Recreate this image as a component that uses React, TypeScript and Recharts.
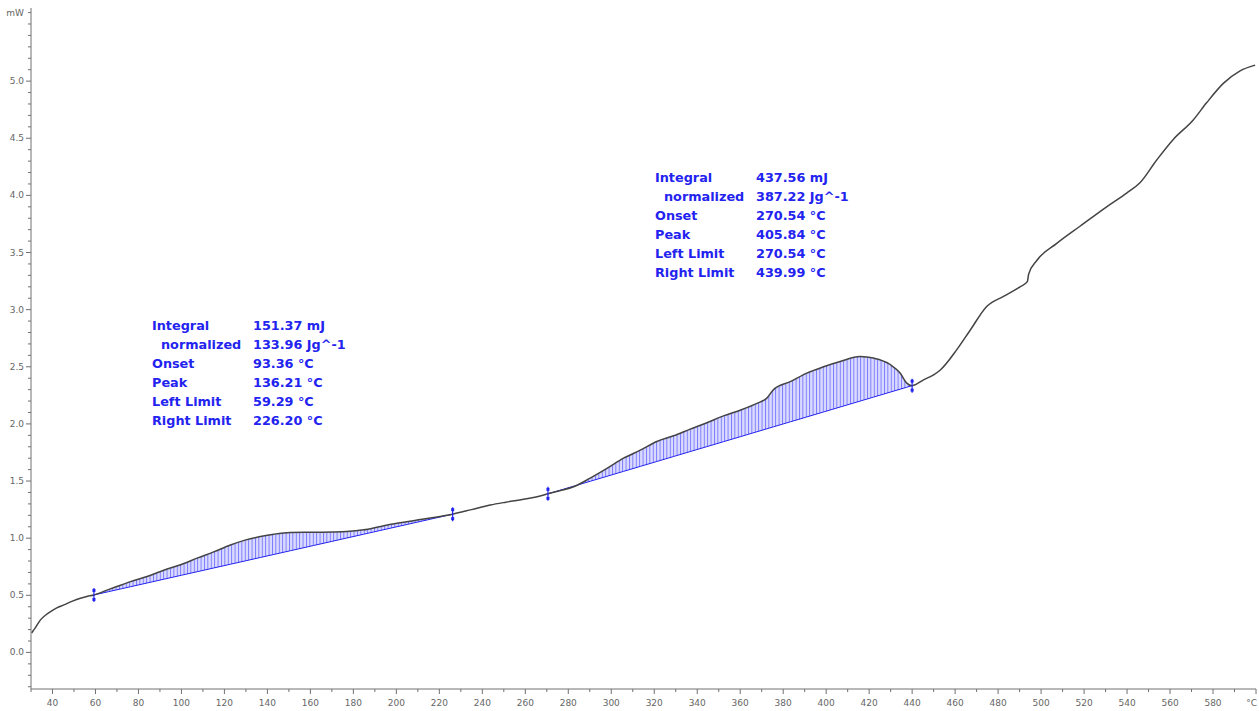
import React from 'react'
import { ComposedChart, Line, Area, XAxis, YAxis, Scatter } from 'recharts'

// DSC trace: sample temperature (°C) and heat flow (mW)
const temperature = [
  30.3, 31, 32, 34.4, 37, 39.1, 42, 45.3, 49, 53, 56, 59.29, 66, 72, 76.3, 84, 91.8, 100, 107.3, 115,
  122.8, 130, 136.7, 143, 150.7, 161.5, 170, 177, 184.8, 192, 200.3, 212, 223.6, 226.2, 235, 243.7, 251,
  259.2, 265, 270.54, 276, 282.5, 290.2, 298, 305.7, 313.5, 321.2, 329, 336.7, 344.5, 352.2, 360, 367.8,
  372.4, 375.5, 383.3, 391, 398.8, 406.5, 415.8, 422, 429.8, 434.4, 437.5, 439.99, 445.3, 450, 453, 460.8,
  467, 474.8, 482.5, 490.2, 493.6, 494.2, 498, 507.3, 518.1, 530.5, 539.8, 546, 553.8, 561.5, 570.8, 577,
  584.8, 592.6, 599.6,
]
const heatFlow = [
  0.17, 0.19, 0.215, 0.285, 0.33, 0.357, 0.39, 0.416, 0.447, 0.475, 0.49, 0.503, 0.55, 0.59, 0.62, 0.665,
  0.72, 0.77, 0.825, 0.88, 0.94, 0.985, 1.014, 1.035, 1.05, 1.052, 1.054, 1.058, 1.073, 1.1, 1.13, 1.165,
  1.2, 1.21, 1.25, 1.29, 1.315, 1.34, 1.36, 1.388, 1.415, 1.45, 1.525, 1.61, 1.7, 1.77, 1.846, 1.896, 1.954,
  2.01, 2.07, 2.12, 2.18, 2.226, 2.3, 2.37, 2.445, 2.5, 2.546, 2.59, 2.576, 2.52, 2.445, 2.357, 2.335, 2.386,
  2.43, 2.47, 2.65, 2.82, 3.03, 3.116, 3.2, 3.245, 3.31, 3.43, 3.58, 3.73, 3.9, 4.02, 4.11, 4.31, 4.49, 4.66,
  4.81, 4.98, 5.09, 5.14,
]

// integration limits (°C) for the two evaluated peaks
const peakLeft = [59.29, 270.54]
const peakRight = [226.2, 439.99]

const resultLabels = ['Integral', 'normalized', 'Onset', 'Peak', 'Left Limit', 'Right Limit']
const peak1Results = ['151.37 mJ', '133.96 Jg^-1', '93.36 °C', '136.21 °C', '59.29 °C', '226.20 °C']
const peak2Results = ['437.56 mJ', '387.22 Jg^-1', '270.54 °C', '405.84 °C', '270.54 °C', '439.99 °C']

const xMajorTicks = [40, 60, 80, 100, 120, 140, 160, 180, 200, 220, 240, 260, 280, 300, 320, 340, 360, 380, 400, 420, 440, 460, 480, 500, 520, 540, 560, 580]
const yMajorTicks = ['0.0', '0.5', '1.0', '1.5', '2.0', '2.5', '3.0', '3.5', '4.0', '4.5', '5.0']

const xTicks: number[] = []
for (let t = 30; t <= 600; t += 10) xTicks.push(t)
const yTicks: number[] = []
for (let i = -3; i <= 56; i++) yTicks.push(+(i / 10).toFixed(1))

const hfAt = (t: number) => heatFlow[temperature.indexOf(t)]

// straight integration baseline between the curve values at each pair of limits
const rows = temperature.map((t, i) => {
  const row: any = { t, hf: heatFlow[i] }
  peakLeft.forEach((l, k) => {
    const r = peakRight[k]
    if (t >= l && t <= r) {
      const b = hfAt(l) + ((hfAt(r) - hfAt(l)) * (t - l)) / (r - l)
      row['base' + k] = b
      row['band' + k] = [b, heatFlow[i]]
    }
  })
  return row
})

const limitMarks = [...peakLeft, ...peakRight].map(t => ({ t, hf: hfAt(t) }))

const AXIS = '#707070'
const LABEL = '#666'
const BLUE = '#2323f0'

const XTick = (props: any) => {
  const { x, y, payload } = props
  const v = payload.value
  const major = v % 20 === 0
  let label = ''
  if (xMajorTicks.includes(v)) label = String(v)
  if (v === 600) label = '°C'
  return (
    <g>
      <line x1={x} y1={y} x2={x} y2={y + (major ? 5 : 3)} stroke={AXIS} />
      {label && (
        <text x={v === 600 ? x + 1 : x} y={y + 17} textAnchor={v === 600 ? 'end' : 'middle'} fontSize={9} fill={LABEL} fontFamily="DejaVu Sans">
          {label}
        </text>
      )}
    </g>
  )
}

const YTick = (props: any) => {
  const { x, y, payload } = props
  const v = payload.value as number
  const txt = v.toFixed(1)
  const major = yMajorTicks.includes(txt)
  const label = major ? txt : v === 5.6 ? 'mW' : ''
  return (
    <g>
      <line x1={x - (major ? 5 : 3)} y1={y} x2={x} y2={y} stroke={AXIS} />
      {label && (
        <text x={x - 7} y={y + 3} textAnchor="end" fontSize={9} fill={LABEL} fontFamily="DejaVu Sans">
          {label}
        </text>
      )}
    </g>
  )
}

const LimitMark = (props: any) => {
  const { cx, cy } = props
  return (
    <g>
      <line x1={cx} y1={cy - 7} x2={cx} y2={cy + 7} stroke={BLUE} strokeWidth={1.2} />
      <rect x={cx - 1.5} y={cy - 6} width={3} height={3} fill={BLUE} />
      <rect x={cx - 1.5} y={cy + 3} width={3} height={3} fill={BLUE} />
    </g>
  )
}

const ResultBlock = ({ left, top, values }: { left: number; top: number; values: string[] }) => (
  <div style={{ position: 'absolute', left, top, fontFamily: 'DejaVu Sans', fontWeight: 700, fontSize: 12.8, lineHeight: '19px', color: BLUE }}>
    {resultLabels.map((l, i) => (
      <div key={l} style={{ position: 'relative', height: 19, whiteSpace: 'nowrap' }}>
        <span style={{ position: 'absolute', left: i === 1 ? 9 : 0 }}>{l}</span>
        <span style={{ position: 'absolute', left: 101 }}>{values[i]}</span>
      </div>
    ))}
  </div>
)

export default function App() {
  return (
    <div style={{ position: 'relative', width: 1259, height: 711, background: '#fff' }}>
      <style>{'body{margin:0}'}</style>
      <ComposedChart width={1259} height={711} data={rows} margin={{ top: 8, right: 3, bottom: 0, left: 0 }}>
        <defs>
          <pattern id="hatch" patternUnits="userSpaceOnUse" width={3.4} height={10}>
            <rect width={3.4} height={10} fill="#dadaff" />
            <line x1={0.5} y1={0} x2={0.5} y2={10} stroke="#5c5cff" strokeWidth={0.8} />
          </pattern>
        </defs>
        <XAxis
          dataKey="t"
          type="number"
          domain={[30, 600]}
          ticks={xTicks}
          interval={0}
          height={22}
          tickSize={0}
          tickMargin={0}
          tickLine={false}
          axisLine={{ stroke: AXIS }}
          tick={<XTick />}
        />
        <YAxis
          type="number"
          domain={[-0.32, 5.64]}
          ticks={yTicks}
          interval={0}
          width={31}
          tickSize={0}
          tickMargin={0}
          tickLine={false}
          axisLine={{ stroke: AXIS }}
          tick={<YTick />}
        />
        <Area dataKey="band0" type="monotone" stroke="none" fill="url(#hatch)" fillOpacity={1} isAnimationActive={false} connectNulls={false} />
        <Area dataKey="band1" type="monotone" stroke="none" fill="url(#hatch)" fillOpacity={1} isAnimationActive={false} connectNulls={false} />
        <Line dataKey="base0" type="linear" stroke={BLUE} strokeWidth={1} dot={false} isAnimationActive={false} />
        <Line dataKey="base1" type="linear" stroke={BLUE} strokeWidth={1} dot={false} isAnimationActive={false} />
        <Line dataKey="hf" type="monotone" stroke="#444" strokeWidth={1.5} dot={false} isAnimationActive={false} />
        <Scatter data={limitMarks} dataKey="hf" shape={<LimitMark />} isAnimationActive={false} />
      </ComposedChart>
      <ResultBlock left={152} top={316} values={peak1Results} />
      <ResultBlock left={655} top={168} values={peak2Results} />
    </div>
  )
}
